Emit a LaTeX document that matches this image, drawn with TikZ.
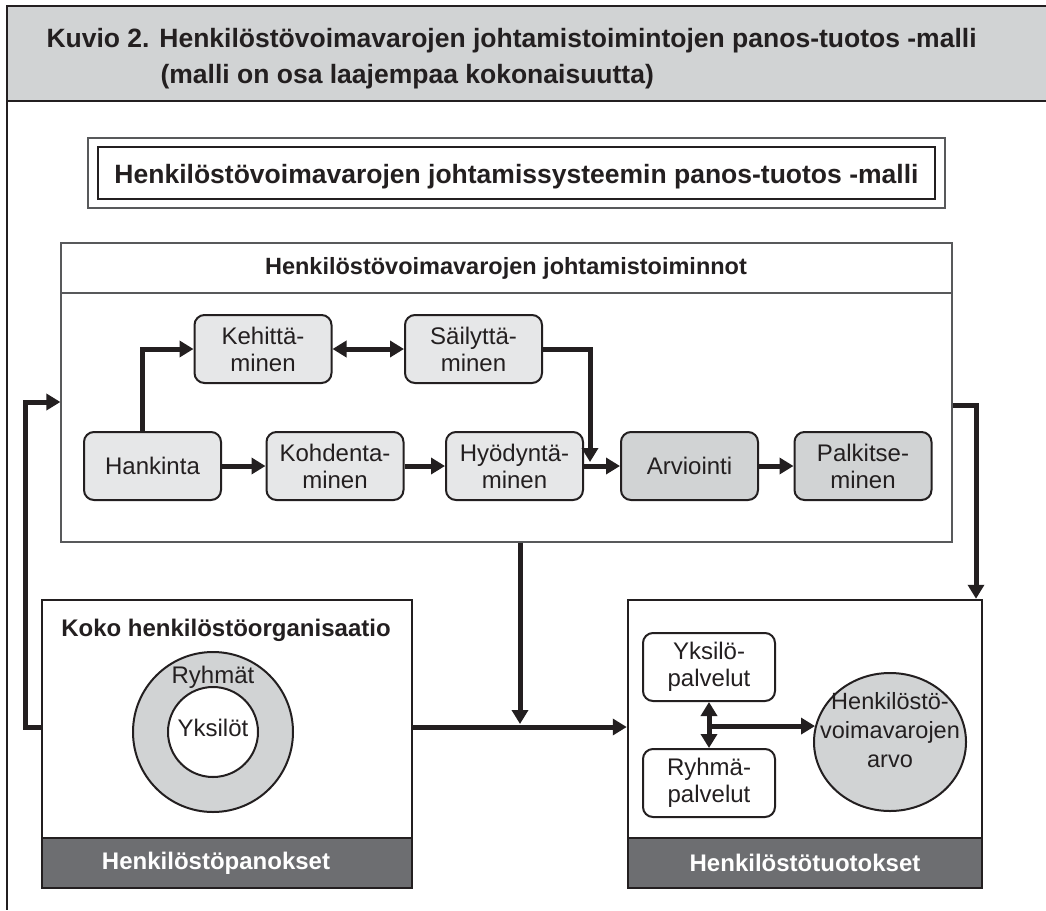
\documentclass[tikz,border=0pt]{standalone}
\usepackage{fontspec}
\setmainfont{Liberation Sans}
\usetikzlibrary{arrows.meta,shapes.geometric}
\definecolor{ink}{HTML}{231F20}
\definecolor{paleg}{HTML}{E6E7E8}
\definecolor{midg}{HTML}{D1D3D4}
\definecolor{darkg}{HTML}{6D6E71}
\definecolor{rule}{HTML}{58595B}
\begin{document}
\begin{tikzpicture}[x=1pt,y=-1pt,
  proc/.style={draw=ink, line width=2pt, rounded corners=10pt, fill=paleg,
    minimum width=137pt, minimum height=68pt, inner sep=0pt, align=center,
    text=ink, font=\fontsize{24}{27}\selectfont},
  procdark/.style={proc, fill=midg},
  svc/.style={proc, fill=white, minimum width=132pt},
  bigbox/.style={draw=ink, line width=2.5pt, fill=white, inner sep=0pt},
  band/.style={draw=ink, line width=2.5pt, fill=darkg, inner sep=0pt,
    minimum height=50pt},
  bandtext/.style={anchor=base, text=white, font=\bfseries\fontsize{24}{27}\selectfont},
  boldtext/.style={anchor=base, text=ink, font=\bfseries\fontsize{24}{27}\selectfont},
  plain/.style={text=ink, font=\fontsize{24}{27}\selectfont, align=center},
  arr/.style={draw=ink, line width=5pt, -{Triangle[length=14pt,width=16pt]}},
  dblarr/.style={draw=ink, line width=5pt,
    {Triangle[length=14pt,width=16pt]}-{Triangle[length=14pt,width=16pt]}}]
\useasboundingbox (0,0) rectangle (1046,910);

% outer frame and caption band
\fill[midg] (7,6) rectangle (1046,101);
\draw[ink, line width=2.5pt] (1046,6) -- (7,6) -- (7,910);
\draw[ink, line width=2.5pt] (7,101) -- (1046,101);
\node[anchor=base west, text=ink, font=\bfseries\fontsize{26.5}{30}\selectfont] (cap1) at (43,47)
  {Kuvio 2. Henkilöstövoimavarojen johtamistoimintojen panos-tuotos -malli};
\node[anchor=base west, text=ink, font=\bfseries\fontsize{26.5}{30}\selectfont] (cap2) at (157,83)
  {(malli on osa laajempaa kokonaisuutta)};

% model title with double frame
\node[draw=rule, line width=1.2pt, minimum width=857pt, minimum height=70pt, inner sep=0pt] (tframe) at (516.5,173) {};
\node[draw=ink, line width=2pt, minimum width=837pt, minimum height=52pt, inner sep=0pt] (tinner) at (516.5,173) {};
\node[anchor=base, text=ink, font=\bfseries\fontsize{26.5}{30}\selectfont] (ttext) at (516.5,183)
  {Henkilöstövoimavarojen johtamissysteemin panos-tuotos -malli};

% management functions panel
\node[draw=rule, line width=1.2pt, fill=white, minimum width=891pt, minimum height=299pt, inner sep=0pt] (fun) at (506.5,392.5) {};
\draw[rule, line width=1.2pt] (fun.west |- 0,293) -- (fun.east |- 0,293);
\node[anchor=base, text=ink, font=\bfseries\fontsize{23.5}{27}\selectfont] (funtitle) at (506,274)
  {Henkilöstövoimavarojen johtamistoiminnot};

\node[proc] (keh) at (263,349) {Kehittä-\\minen};
\node[proc] (sai) at (473.5,349) {Säilyttä-\\minen};
\node[proc] (han) at (152.5,466) {Hankinta};
\node[proc] (koh) at (335,466) {Kohdenta-\\minen};
\node[proc] (hyo) at (514.5,466) {Hyödyntä-\\minen};
\node[procdark] (arv) at (689.5,466) {Arviointi};
\node[procdark] (pal) at (863,466) {Palkitse-\\minen};

\coordinate (upx) at (142,0);
\coordinate (dropc) at (590,462);
\draw[arr] (han.north -| upx) |- (keh.west);
\draw[dblarr] (keh.east) -- (sai.west);
\draw[arr] (sai.east) -| (dropc);
\draw[arr] (han.east) -- (koh.west);
\draw[arr] (koh.east) -- (hyo.west);
\draw[arr] (hyo.east) -- (arv.west);
\draw[arr] (arv.east) -- (pal.west);

% personnel inputs
\node[bigbox, minimum width=370pt, minimum height=288pt] (koko) at (227,744) {};
\node[band, minimum width=370pt] (kband) at (227,863) {};
\node[bandtext] (ktext) at (216,869) {Henkilöstöpanokset};
\node[boldtext] (ktitle) at (226,636) {Koko henkilöstöorganisaatio};
\node[circle, draw=ink, line width=2pt, fill=midg, minimum size=160pt, inner sep=0pt] (grp) at (213,732) {};
\node[circle, draw=ink, line width=2pt, fill=white, minimum size=90pt, inner sep=0pt] (ind) at (213,732) {};
\node[plain] (grptext) at (213,677) {Ryhmät};
\node[plain] (indtext) at (213,728) {Yksilöt};

% personnel outputs
\node[bigbox, minimum width=354pt, minimum height=288pt] (tuo) at (805,744) {};
\node[band, minimum width=354pt] (tband) at (805,863) {};
\node[bandtext] (ttext2) at (805,871) {Henkilöstötuotokset};
\node[svc] (yks) at (709,667) {Yksilö-\\palvelut};
\node[svc] (ryh) at (709,783) {Ryhmä-\\palvelut};
\node[ellipse, draw=ink, line width=2pt, fill=midg, minimum width=152pt, minimum height=138pt,
  inner sep=0pt, plain] (arvo) at (890,742) {};
\node[plain, font=\fontsize{23.5}{29}\selectfont] (arvotext) at (890,730) {Henkilöstö-\\voimavarojen\\arvo};

\draw[dblarr] (yks.south) -- (ryh.north);
\draw[arr] (yks.south |- arvo.168) -- (arvo.168);

% connectors between panels
\coordinate (loopx) at (25,0);
\coordinate (lowy) at (0,727);
\coordinate (topy) at (0,402);
\coordinate (joinc) at (520,724);
\coordinate (rightc) at (976,405);
\draw[arr] (koko.west |- lowy) -| (loopx |- topy) -- (fun.west |- topy);
\draw[arr] (koko.east |- lowy) -- (tuo.west |- lowy);
\draw[arr] (fun.south -| joinc) -- (joinc);
\draw[arr] (fun.east |- rightc) -| (tuo.north -| rightc);
\end{tikzpicture}
\end{document}
